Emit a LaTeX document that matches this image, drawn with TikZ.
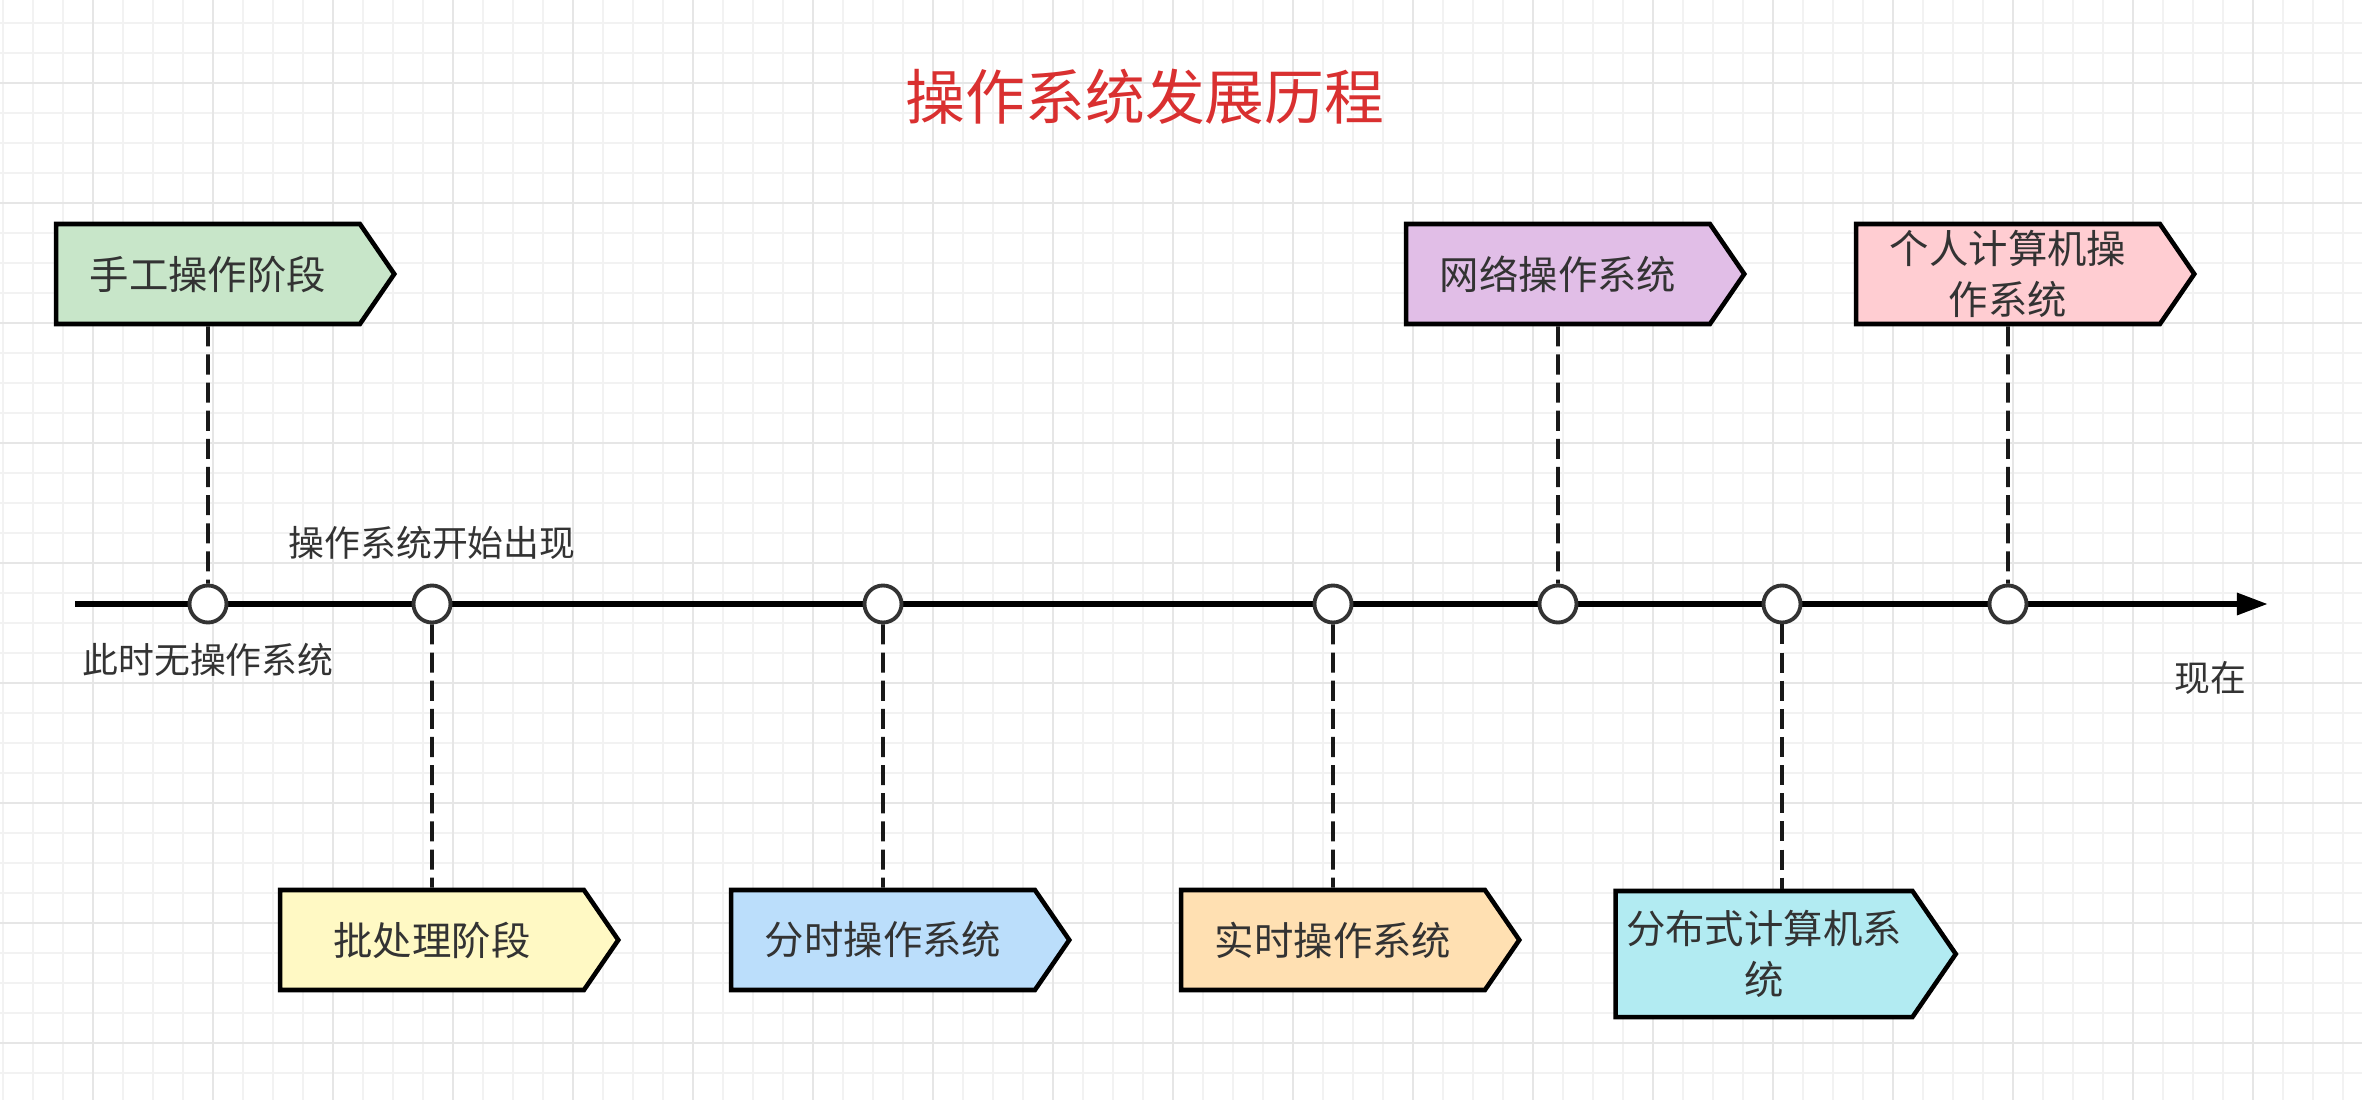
\documentclass[tikz,border=0pt]{standalone}
\usepackage{fontspec}
\setmainfont{Noto Sans CJK SC}
\usetikzlibrary{arrows.meta,positioning,shapes.symbols}

\definecolor{gridminor}{HTML}{F2F2F2}
\definecolor{gridmajor}{HTML}{E6E6E6}
\definecolor{ink}{HTML}{333333}
\definecolor{titlered}{HTML}{D93030}
\definecolor{manualgreen}{HTML}{C8E6C9}
\definecolor{batchyellow}{HTML}{FFF9C4}
\definecolor{shareblue}{HTML}{BBDEFB}
\definecolor{realorange}{HTML}{FFE0B2}
\definecolor{netpurple}{HTML}{E1BEE7}
\definecolor{distcyan}{HTML}{B2EBF2}
\definecolor{pcpink}{HTML}{FFCDD2}

\tikzset{
  stage/.style={signal, signal to=east, signal from=nowhere, signal pointer angle=111,
    draw=black, line width=1.3pt, fill=#1, minimum width=3.38cm, minimum height=1cm,
    inner sep=0pt, align=center, text=ink, font=\fontsize{11.2pt}{14.5pt}\selectfont},
  milestone/.style={circle, draw=ink, fill=white, line width=1.1pt, minimum size=0.37cm, inner sep=0pt},
  leader/.style={draw=black!90, line width=1.1pt, dash pattern=on 5.7pt off 2.3pt},
  note/.style={text=ink, inner sep=0pt, font=\fontsize{10.2pt}{12pt}\selectfont},
}

\begin{document}
\begin{tikzpicture}[x=0.01cm, y=-0.01cm]
\useasboundingbox (0,0) rectangle (2362,1100);

% background grid
\foreach \i in {0,...,78} \draw[gridminor, line width=0.55pt] ({2.7+30*\i},0) -- ({2.7+30*\i},1100);
\foreach \j in {0,...,36} \draw[gridminor, line width=0.55pt] (0,{22.7+30*\j}) -- (2362,{22.7+30*\j});
\foreach \i in {0,...,18} \draw[gridmajor, line width=0.55pt] ({92.7+120*\i},0) -- ({92.7+120*\i},1100);
\foreach \j in {0,...,8} \draw[gridmajor, line width=0.55pt] (0,{82.7+120*\j}) -- (2362,{82.7+120*\j});

\node[text=titlered, font=\fontsize{17pt}{20pt}\selectfont] (title) at (1145,97) {操作系统发展历程};

% time axis
\coordinate (start) at (75,604);
\coordinate (now) at (2268,604);
\draw[line width=1.7pt, -{Triangle[length=0.31cm,width=0.21cm]}] (start) -- (now);

\foreach \n/\x in {c1/208, c2/432, c3/883, c4/1333, c5/1558, c6/1782, c7/2008}
  \node[milestone] (\n) at (\x,604) {};

\node[stage=manualgreen] (manual) at (208,274) {手工操作阶段};
\node[stage=batchyellow] (batch) at (432,940) {批处理阶段};
\node[stage=shareblue] (timeshare) at (883,940) {分时操作系统};
\node[stage=realorange] (realtime) at (1333,940) {实时操作系统};
\node[stage=netpurple] (network) at (1558,274) {网络操作系统};
\node[stage=distcyan, minimum width=3.4cm, minimum height=1.26cm] (distributed) at (1764,954) {分布式计算机系\\统};
\node[stage=pcpink] (personal) at (2008,274) {个人计算机操\\作系统};

\draw[leader] (manual) -- (c1);
\draw[leader] (c2) -- (batch);
\draw[leader] (c3) -- (timeshare);
\draw[leader] (c4) -- (realtime);
\draw[leader] (network) -- (c5);
\draw[leader] (c6) -- (c6 |- distributed.north);
\draw[leader] (personal) -- (c7);

\node[note, below=0.18cm of c1] (nosystem) {此时无操作系统};
\node[note, above=0.23cm of c2] (firstsystem) {操作系统开始出现};
\node[note] (present) at (2210,678) {现在};

\end{tikzpicture}
\end{document}
